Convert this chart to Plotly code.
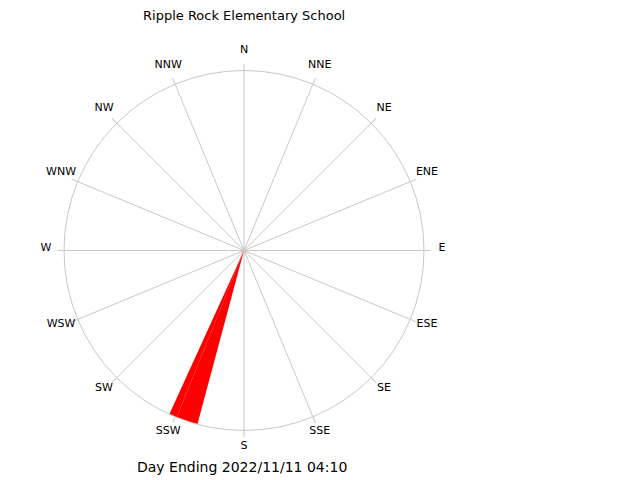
import plotly.graph_objects as go

title_text = "Ripple Rock Elementary School"
footer_text = "Day Ending 2022/11/11 04:10"
directions = ["N", "NNE", "NE", "ENE", "E", "ESE", "SE", "SSE",
              "S", "SSW", "SW", "WSW", "W", "WNW", "NW", "NNW"]
direction_deg = [i * 22.5 for i in range(16)]
label_radius = [94.3] * 16  # compass labels on the (larger) label ring

# wind wedges (compass degrees, angular width, radial extent %)
wedge_theta = [203.25, 198.5]
wedge_width = [2.5, 7.0]
wedge_r = [100, 100]

fig = go.Figure()
fig.add_trace(go.Barpolar(
    r=wedge_r, theta=wedge_theta, width=wedge_width,
    marker=dict(color="#ff0000", line=dict(width=0)),
    hoverinfo="skip", subplot="polar",
))
fig.add_trace(go.Scatterpolar(
    r=label_radius, theta=direction_deg, text=directions,
    mode="text", textposition="middle center", cliponaxis=False,
    textfont=dict(family="DejaVu Sans", size=11, color="black"),
    hoverinfo="skip", subplot="polar2",
))

grid = "#c8c8c8"
cx, cy, R = 244, 250.5, 180
dom = dict(x=[(cx - R) / 640, (cx + R) / 640], y=[(480 - cy - R) / 480, (480 - cy + R) / 480])
cy2, R2 = 248, 210
dom2 = dict(x=[(cx - R2) / 640, (cx + R2) / 640], y=[(480 - cy2 - R2) / 480, (480 - cy2 + R2) / 480])
fig.update_layout(
    width=640, height=480,
    margin=dict(l=0, r=0, t=0, b=0),
    paper_bgcolor="white",
    showlegend=False,
    font=dict(family="DejaVu Sans", size=12, color="black"),
    polar=dict(
        domain=dom,
        bgcolor="white",
        angularaxis=dict(
            rotation=90, direction="clockwise",
            tickmode="array", tickvals=direction_deg, ticktext=directions,
            showticklabels=False,
            showgrid=True, gridcolor=grid, gridwidth=1,
            showline=True, linecolor=grid, linewidth=1,
            ticks="outside", ticklen=6, tickcolor=grid,
            layer="above traces",
        ),
        radialaxis=dict(range=[0, 100], visible=False, showgrid=False),
        barmode="overlay",
    ),
    polar2=dict(
        domain=dom2,
        bgcolor="rgba(0,0,0,0)",
        angularaxis=dict(rotation=90, direction="clockwise", visible=False,
                         showgrid=False, showline=False),
        radialaxis=dict(range=[0, 100], visible=False, showgrid=False),
    ),
    annotations=[
        dict(text=title_text, x=244 / 640, y=1 - 15 / 480, xref="paper", yref="paper",
             showarrow=False, xanchor="center", yanchor="middle",
             font=dict(family="DejaVu Sans", size=13, color="black")),
        dict(text=footer_text, x=242 / 640, y=1 - 467 / 480, xref="paper", yref="paper",
             showarrow=False, xanchor="center", yanchor="middle",
             font=dict(family="DejaVu Sans", size=14, color="black")),
    ],
)

fig.write_html("out.html")
